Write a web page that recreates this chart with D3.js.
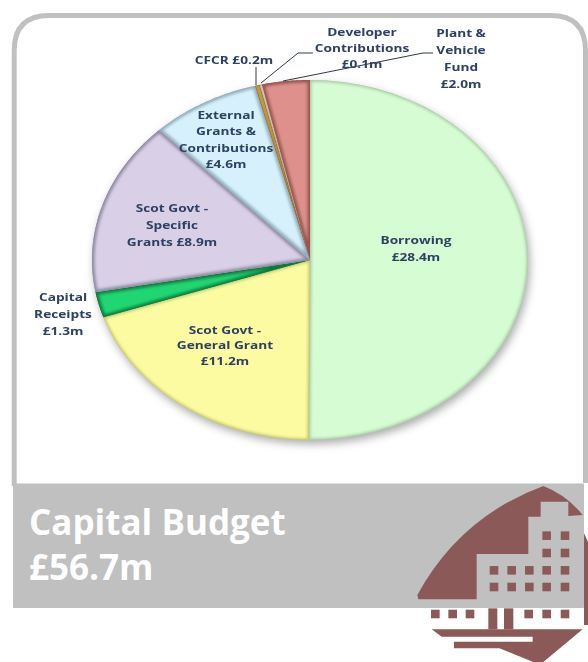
<!DOCTYPE html>
<html><head><meta charset="utf-8">
<script src="https://cdn.jsdelivr.net/npm/d3@7"></script>
<style>html,body{margin:0;padding:0;background:#fff}svg{display:block}</style></head>
<body><svg id="c" width="588" height="662"></svg>
<script>
const sources=["Borrowing","Scot Govt - General Grant","Capital Receipts","Scot Govt - Specific Grants","External Grants & Contributions","CFCR","Developer Contributions","Plant & Vehicle Fund"];
const amounts=[28.4,11.2,1.3,8.9,4.6,0.2,0.1,2.0];
const sliceColours=["#d6fcd3","#fdfba2","#20d672","#d9cfe6","#d6f1fb","#d2a548","#efe0d0","#de918c"];
const edgeColours=["#a9c8a4","#c4c46c","#0a7a3e","#8f8ba2","#92aebb","#7a5c20","#b09888","#9a5450"];
const labelLines=[["Borrowing","£28.4m"],["Scot Govt -","General Grant","£11.2m"],["Capital","Receipts","£1.3m"],["Scot Govt -","Specific","Grants £8.9m"],["External","Grants &","Contributions","£4.6m"],["CFCR £0.2m"],["Developer","Contributions","£0.1m"],["Plant &","Vehicle","Fund","£2.0m"]];
const titleLines=["Capital Budget","£56.7m"];

const labelAnchors=[[416,240],[225,330],[63,297],[172,208],[226,115],[234,60],[362,32],[461,33]];
const lineSteps=[17,15.5,17,17,16.3,0,16,17];
const leaders=[null,null,null,null,null,[[256,85],[256,67]],[[261,83],[298,53],[313,53]],[[283,81],[423,53],[433,53]]];

const svg=d3.select("#c"), defs=svg.append("defs");
const cx=310,cy=260,rx=218,ry=180;
const maroon="#8b5a58",grey="#c0c0c0";

const sh=defs.append("filter").attr("id","shadow").attr("x","-20%").attr("y","-20%").attr("width","140%").attr("height","140%");
sh.append("feGaussianBlur").attr("stdDeviation",4);
const bev=defs.append("filter").attr("id","bevel").attr("x","-5%").attr("y","-5%").attr("width","110%").attr("height","110%");
bev.append("feGaussianBlur").attr("stdDeviation",1.6);
const soft=defs.append("filter").attr("id","soft");
soft.append("feGaussianBlur").attr("stdDeviation",0.35);

// panel border (open at the bottom, the banner closes it)
const L=14.2,R=585.5,Tp=15.5,B=486,C=35;
svg.append("path").attr("d",`M${L},${B} V${Tp+C} Q${L},${Tp} ${L+C},${Tp} H${R-C} Q${R},${Tp} ${R},${Tp+C} V${B-3}`)
  .attr("fill","#fff").attr("stroke",grey).attr("stroke-width",5);

// pie
const pie=d3.pie().sort(null).value(d=>d);
const arcs=pie(amounts);
svg.append("ellipse").attr("cx",cx+2).attr("cy",cy+4).attr("rx",rx).attr("ry",ry).attr("fill","#666").attr("opacity",.55).attr("filter","url(#shadow)");
const px=a=>[cx+rx*Math.sin(a),cy-ry*Math.cos(a)];
const line=d3.line();
arcs.forEach((d,i)=>{
  const steps=d3.range(0,41).map(k=>px(d.startAngle+(d.endAngle-d.startAngle)*k/40));
  const outline=line([[cx,cy],...steps])+"Z";
  const id="sx"+i;
  defs.append("clipPath").attr("id",id).append("path").attr("d",outline);
  const g=svg.append("g").attr("clip-path",`url(#${id})`);
  g.append("path").attr("d",outline).attr("fill",sliceColours[i]);
  g.append("path").attr("d",outline).attr("fill","none").attr("stroke",edgeColours[i])
    .attr("stroke-width",i==5||i==6?1:(i<2?3:5)).attr("filter","url(#bevel)");
  g.append("path").attr("d",outline).attr("fill","none").attr("stroke",edgeColours[i]).attr("stroke-width",1).attr("opacity",.8);
});

// banner
svg.append("rect").attr("x",13).attr("y",483.5).attr("width",571).attr("height",124.5).attr("rx",1).attr("fill",grey);

// title
const T=svg.append("text").attr("fill","#fff").attr("font-family","'Open Sans'").attr("font-weight",700).attr("font-size",35);
titleLines.forEach((s,i)=>T.append("tspan").attr("x",29).attr("y",535+i*45).text(s));

// logo
const Z=(x,y)=>[400+x/3,470+y/3];
const zp=a=>a.map(p=>Z(p[0],p[1]).join(",")).join(" L");
const logo=svg.append("g");
logo.append("path").attr("fill",maroon).attr("d",
 `M${Z(52,375).join(",")} Q${Z(180,140).join(",")} ${Z(430,48).join(",")} Q${Z(500,75).join(",")} ${Z(548,135).join(",")} L${zp([[505,138],[505,95],[422,95],[422,140],[385,140],[385,252],[230,252],[230,388],[55,388]])} Z`);
logo.append("path").attr("fill",maroon).attr("d",`M${zp([[552,190],[564,215],[564,465],[552,465]])} Z`);
logo.append("path").attr("fill",maroon).attr("d",
 `M${zp([[95,478],[548,478],[430,576],[400,576],[298,535],[162,535],[162,515],[398,515],[398,500],[125,500]])} Z`);
[[265,292],[312,340]].forEach(c=>logo.append("rect").attr("x",Z(c[0],0)[0]).attr("y",Z(0,415)[1]).attr("width",(c[1]-c[0])/3).attr("height",21).attr("fill",maroon));
const windows=[[440,197],[495,197],[440,249],[495,249],[282,301],[335,301],[388,301],[440,301],[495,301],[282,351],[335,351],[388,351],[440,351],[495,351],[106,432],[158,432],[210,432],[386,432],[440,432],[495,432]];
logo.selectAll(".w").data(windows).join("rect").attr("x",d=>Z(d[0],0)[0]-4.3).attr("y",d=>Z(0,d[1])[1]-4.3).attr("width",8.6).attr("height",8.6).attr("fill",maroon);

// leaders
leaders.forEach(l=>{if(l)svg.append("path").attr("d",line(l)).attr("fill","none").attr("stroke","#2f3a4a").attr("stroke-width",1);});

// labels: horizontally stretched, as in the squat lettering of the reference
labelLines.forEach((lines,i)=>{
  const t=svg.append("text").attr("text-anchor","middle").attr("font-family","'Open Sans'").attr("font-weight",700).attr("font-size",11.4)
    .attr("fill","#2f4063").attr("filter","url(#soft)")
    .attr("transform",`translate(${labelAnchors[i][0]},${labelAnchors[i][1]+4}) scale(1.2,1)`);
  lines.forEach((s,k)=>t.append("tspan").attr("x",0).attr("y",k*lineSteps[i]).text(s));
});
</script></body></html>
